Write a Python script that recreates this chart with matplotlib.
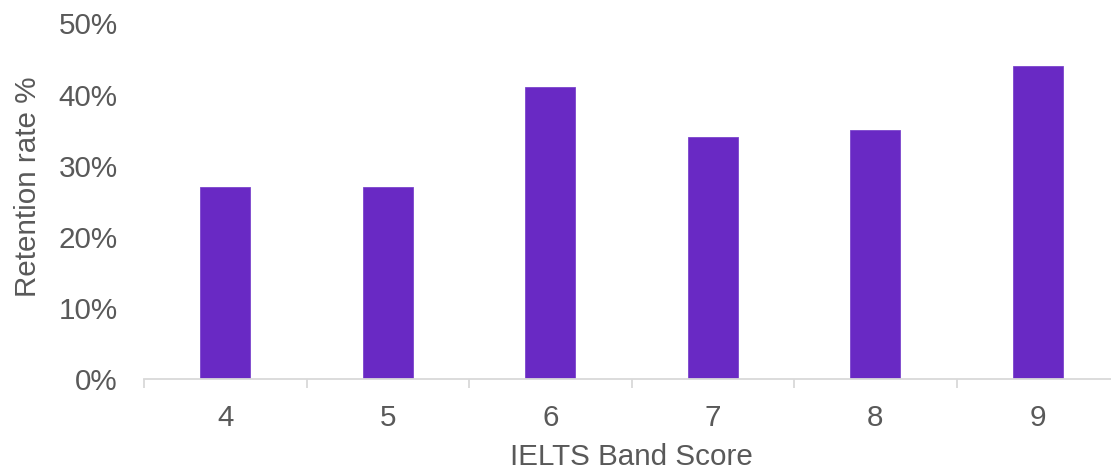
import matplotlib
matplotlib.use("Agg")
import matplotlib.pyplot as plt
import numpy as np
from matplotlib.ticker import FuncFormatter, FixedLocator

categories = ["4", "5", "6", "7", "8", "9"]
retention = [0.27, 0.27, 0.41, 0.34, 0.35, 0.44]

plt.rcParams['font.family'] = ['Liberation Sans', 'DejaVu Sans']
text_color = "#595959"
fs = 21.3

fig = plt.figure(figsize=(11.11, 4.70), dpi=100)
ax = fig.add_axes([144/1111, (470-379.3)/470, 975/1111, 356/470])

x = np.arange(len(categories))
ax.bar(x, retention, width=0.31, color="#6929C4", edgecolor="#7B45CC", linewidth=0.6, zorder=2)

ax.set_xlim(-0.5, len(categories) - 0.5)
ax.set_ylim(0, 0.5)
ax.set_yticks(np.arange(0, 0.51, 0.1))
ax.yaxis.set_major_formatter(FuncFormatter(lambda v, p: f"{v*100:.0f}%"))

ax.set_xticks(x)
ax.set_xticklabels(categories)
ax.xaxis.set_minor_locator(FixedLocator(np.arange(-0.5, len(categories), 1.0)))
ax.tick_params(axis='x', which='major', length=0, pad=18, labelsize=fs, colors=text_color)
ax.tick_params(axis='x', which='minor', length=6.5, width=1.3, color="#D9D9D9")
ax.tick_params(axis='y', length=0, pad=19, labelsize=fs, colors=text_color)

for s in ["top", "right", "left"]:
    ax.spines[s].set_visible(False)
ax.spines["bottom"].set_color("#D9D9D9")
ax.spines["bottom"].set_linewidth(1.3)

ax.set_ylabel("Retention rate %", fontsize=fs, color=text_color, labelpad=12)
ax.yaxis.label.set_y(0.54)
ax.set_xlabel("IELTS Band Score", fontsize=fs, color=text_color, labelpad=8)

fig.savefig("out.png", dpi=100)
